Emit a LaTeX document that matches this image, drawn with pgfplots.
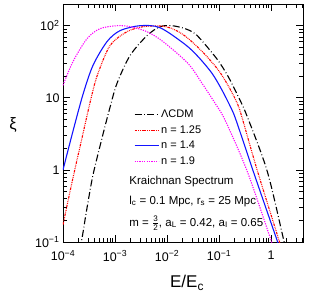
\documentclass[border=0pt]{standalone}
\usepackage{fontspec}
\setmainfont{Liberation Sans}
\usepackage{amsmath}
\usepackage{pgfplots}
\pgfplotsset{compat=1.18}
\definecolor{cdmblack}{RGB}{0,0,0}
\definecolor{nred}{RGB}{255,0,0}
\definecolor{nblue}{RGB}{20,20,255}
\definecolor{nmag}{RGB}{255,0,255}
\begin{document}
\begin{tikzpicture}
\path[use as bounding box] (-63pt,-63pt) rectangle (252pt,242pt);
\begin{axis}[
  at={(0pt,0pt)}, anchor=south west,
  scale only axis, width=240pt, height=238pt,
  xmode=log, ymode=log,
  xmin=1e-4, xmax=4.1, ymin=0.1, ymax=200,
  xtick={1e-4,1e-3,1e-2,1e-1,1},
  xticklabels={10\textsuperscript{−4},10\textsuperscript{−3},10\textsuperscript{−2},10\textsuperscript{−1},1},
  minor xtick={2e-4,3e-4,4e-4,5e-4,6e-4,7e-4,8e-4,9e-4,2e-3,3e-3,4e-3,5e-3,6e-3,7e-3,8e-3,9e-3,2e-2,3e-2,4e-2,5e-2,6e-2,7e-2,8e-2,9e-2,0.2,0.3,0.4,0.5,0.6,0.7,0.8,0.9,2,3,4},
  ytick={0.1,1,10,100},
  yticklabels={10\textsuperscript{−1},1,10,10\textsuperscript{2}},
  minor ytick={0.2,0.3,0.4,0.5,0.6,0.7,0.8,0.9,2,3,4,5,6,7,8,9,20,30,40,50,60,70,80,90,200},
  tick label style={font=\fontsize{12.5}{14}\selectfont},
  xticklabel style={yshift=-5pt},
  major tick length=7.5pt, minor tick length=4pt,
  tick style={black, line width=0.6pt},
  axis line style={line width=0.8pt},
  xlabel={E/E\textsubscript{c}},
  ylabel={ξ},
  xlabel style={font=\fontsize{17}{19}\selectfont, at={(axis description cs:0.517,-0.172)}, anchor=center},
  ylabel style={font=\fontsize{16.5}{18}\selectfont, at={(axis description cs:-0.208,0.49)}, anchor=center, rotate=-90},
  legend style={draw=none, fill=none, at={(axis description cs:0.291,0.567)}, anchor=north west,
    font=\fontsize{11}{13}\selectfont, row sep=2.4pt, inner sep=1pt},
  legend cell align=left,
  legend image code/.code={\draw[#1] (0pt,0pt) -- (24pt,0pt);},
]
% Lambda CDM
\addplot[cdmblack, line width=1.1pt, smooth, dash pattern=on 7pt off 2.5pt on 0.8pt off 2.5pt] coordinates {
(2.1e-4,0.079) (2.317e-4,0.1117) (2.90e-4,0.299) (3.776e-4,0.853) (5.62e-4,2.76) (8.02e-4,7.4)
(1.091e-3,15.85) (1.941e-3,38.5) (4.12e-3,72.8) (7.33e-3,96.8) (1.247e-2,100) (2.218e-2,91.0)
(3.45e-2,77.6) (5.38e-2,55) (9.57e-2,32.9) (0.149,19.8) (0.232,10.5) (0.345,5.56)
(0.838,0.968) (1.702,0.1153) (1.93,0.079)
};
\addlegendentry{ΛCDM}
% n = 1.25
\addplot[nred, line width=1.1pt, smooth, dash pattern=on 2.5pt off 1pt on 0.8pt off 1pt on 0.8pt off 1pt on 0.8pt off 1pt] coordinates {
(1e-4,0.174) (1.556e-4,0.776) (2.317e-4,2.76) (3.30e-4,8.5) (4.51e-4,20) (8.02e-4,53.0)
(1.702e-3,82.6) (3.45e-3,96.8) (7.33e-3,99) (1.247e-2,91.2) (2.218e-2,72) (4.71e-2,44)
(9.57e-2,24.5) (0.149,14.8) (0.2218,8.5) (0.2767,5.3) (0.538,1.0) (1.365,0.1153) (1.60,0.079)
};
\addlegendentry{n = 1.25}
% n = 1.4
\addplot[nblue, line width=1.1pt, smooth] coordinates {
(1e-4,1.0) (1.556e-4,3.45) (2.427e-4,11.2) (3.776e-4,28.2) (7.01e-4,60.1) (1.247e-3,85.3)
(3.03e-3,100) (7.33e-3,93.8) (2.218e-2,55) (3.94e-2,37.3) (7.33e-2,21.8) (0.1143,12.7)
(0.1778,6.73) (0.2218,4.45) (0.451,0.968) (1.247,0.1153) (1.49,0.079)
};
\addlegendentry{n = 1.4}
% n = 1.9
\addplot[nmag, line width=1.1pt, smooth, dash pattern=on 1.2pt off 1.2pt] coordinates {
(1e-4,14.9) (1.556e-4,31.8) (2.90e-4,66.2) (5.15e-4,91.0) (1.091e-3,100) (1.941e-3,97)
(4.12e-3,82.6) (8.38e-3,60.1) (2.535e-2,29.9) (4.71e-2,15.85) (8.38e-2,8.39) (0.1303,4.90)
(0.345,0.968) (0.957,0.1153) (1.14,0.079)
};
\addlegendentry{n = 1.9}
\node[anchor=west, font=\fontsize{11.5}{13}\selectfont] at (axis description cs:0.262,0.254) {Kraichnan Spectrum};
\node[anchor=west, font=\fontsize{11.5}{13}\selectfont] at (axis description cs:0.262,0.172) {l\textsubscript{c} = 0.1 Mpc, r\textsubscript{s} = 25 Mpc};
\node[anchor=west, font=\fontsize{11.5}{13}\selectfont] at (axis description cs:0.262,0.080) {m = $\frac{\text{3}}{\text{2}}$, a\textsubscript{L} = 0.42, a\textsubscript{I} = 0.65};
\end{axis}
\end{tikzpicture}
\end{document}
